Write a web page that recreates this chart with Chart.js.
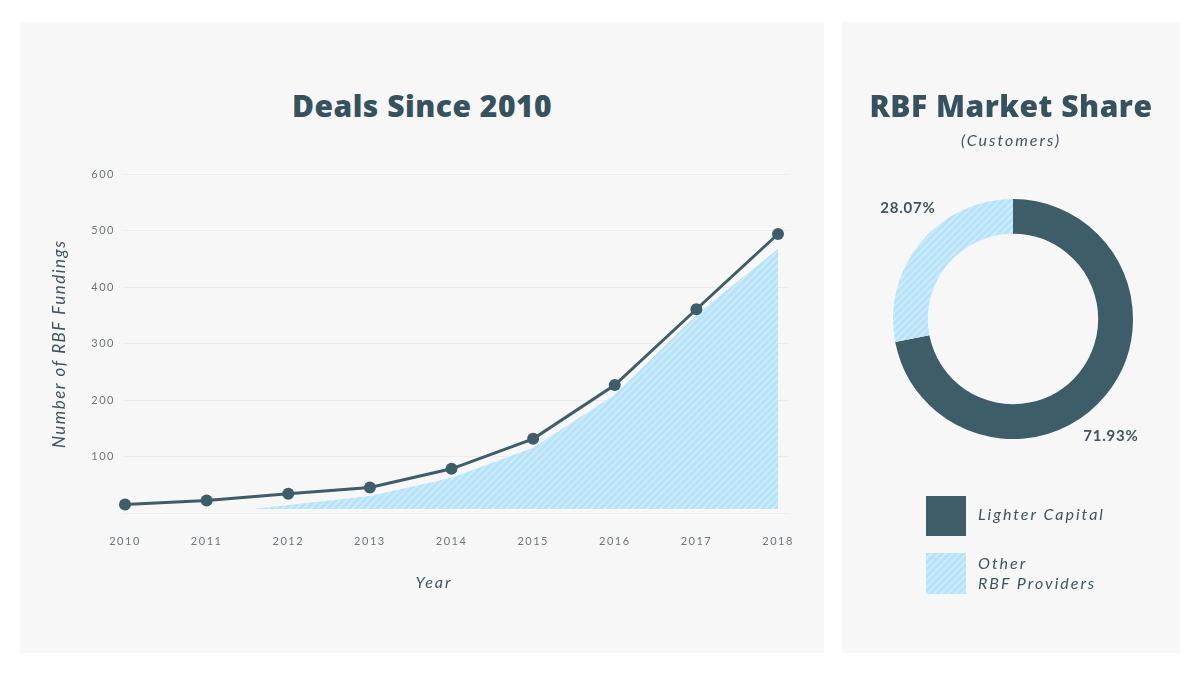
<!DOCTYPE html>
<html><head><meta charset="utf-8">
<script src="https://cdn.jsdelivr.net/npm/chart.js@4.4.1/dist/chart.umd.min.js"></script>
<style>
html,body{margin:0;padding:0;background:#fff;width:1200px;height:675px;overflow:hidden;font-family:Lato,"Open Sans",sans-serif;}
.panel{position:absolute;background:#f7f7f7;}
#left{left:20px;top:22px;width:804px;height:631px;}
#right{left:842px;top:22px;width:338px;height:631px;}
canvas{position:absolute;left:0;top:0;}
.title{position:absolute;left:0;width:100%;text-align:center;font-family:"Open Sans",Lato,sans-serif;font-weight:800;font-size:30px;letter-spacing:0.5px;color:#36525f;line-height:36px;white-space:nowrap;}
.sub{position:absolute;left:0;width:100%;text-align:center;font-style:italic;font-size:16px;color:#3d5561;letter-spacing:2px;line-height:18px;}
.xt{position:absolute;left:372px;width:84px;text-align:center;font-style:italic;font-size:16px;color:#3d5561;letter-spacing:2px;line-height:20px;}
.sw{position:absolute;left:84px;width:40px;height:40px;}
.lt{position:absolute;left:136px;font-style:italic;font-size:16px;color:#3d5561;letter-spacing:2px;line-height:20px;}
</style></head>
<body>
<div class="panel" id="left">
  <div class="title" style="top:66px;">Deals Since 2010</div>
  <canvas id="lineChart" width="804" height="631"></canvas>
  <div class="xt" style="top:550px;">Year</div>
</div>
<div class="panel" id="right">
  <canvas id="pieChart" width="338" height="631"></canvas>
  <div class="title" style="top:66px;">RBF Market Share</div>
  <div class="sub" style="top:109px;">(Customers)</div>
  <div class="sw" style="top:474px;background:#3d5d69;"></div>
  <div class="lt" style="top:482px;">Lighter Capital</div>
  <div class="sw" style="top:531px;height:41px;background:repeating-linear-gradient(135deg,#b8e3f8 0px,#b8e3f8 3.5px,#cdedfc 3.5px,#cdedfc 5px);"></div>
  <div class="lt" style="top:531px;">Other<br>RBF Providers</div>
</div>
<script>
// ---- data ----
const years = [2010, 2011, 2012, 2013, 2014, 2015, 2016, 2017, 2018];
const lighterDeals = [16, 23, 35, 46, 79, 132, 227, 361, 494];
const otherYears = [2011.56, 2013, 2014, 2015, 2016, 2017, 2018];
const otherDeals = [8, 31, 63, 116, 210, 351, 468];
const yTickValues = [100, 200, 300, 400, 500, 600];
const shareLabels = ['Lighter Capital', 'Other RBF Providers'];
const shareValues = [71.93, 28.07];

const DARK = '#3d5d69';
const TEXT = '#3d5561';

function makeHatch(ctx){
  const c = document.createElement('canvas');
  c.width = 7; c.height = 7;
  const g = c.getContext('2d');
  g.fillStyle = '#b8e3f8'; g.fillRect(0,0,7,7);
  g.strokeStyle = '#cdedfc'; g.lineWidth = 1.6;
  g.beginPath();
  g.moveTo(-1,8); g.lineTo(8,-1);
  g.moveTo(-5,5); g.lineTo(5,-5);
  g.moveTo(2,12); g.lineTo(12,2);
  g.stroke();
  return ctx.createPattern(c,'repeat');
}

const spacingPlugin = {
  id:'spacing',
  beforeUpdate(chart){ chart.ctx.letterSpacing = '1.5px'; },
  beforeDraw(chart){ chart.ctx.letterSpacing = '1.5px'; }
};

Chart.defaults.font.family = 'Lato, "Open Sans", sans-serif';
Chart.defaults.animation = false;

const lctx = document.getElementById('lineChart').getContext('2d');
new Chart(lctx, {
  type:'line',
  data:{
    datasets:[
      {
        label:'Lighter Capital',
        data: years.map((y,i)=>({x:y, y:lighterDeals[i]})),
        borderColor: DARK, backgroundColor: DARK,
        borderWidth: 3, pointRadius: 6, pointHoverRadius: 6,
        pointBackgroundColor: DARK, pointBorderWidth: 0,
        fill:false, tension:0, order:0, clip:false
      },
      {
        label:'Other RBF Providers',
        data: otherYears.map((y,i)=>({x:y, y:otherDeals[i]})),
        borderWidth:0, pointRadius:0,
        backgroundColor: makeHatch(lctx),
        fill:{value:8}, tension:0, order:1
      }
    ]
  },
  options:{
    responsive:false,
    layout:{padding:{left:18,right:37,top:152,bottom:39.5}},
    plugins:{legend:{display:false}, tooltip:{enabled:false}},
    scales:{
      x:{
        type:'linear', min:2010, max:2018.11,
        afterBuildTicks(s){ s.ticks = years.map(v=>({value:v})); },
        afterFit(s){ s.height = 100; },
        grid:{display:false, drawTicks:false},
        border:{display:false},
        ticks:{padding:21, color:'#6f7477', font:{size:11}, callback:v=>String(v), maxRotation:0, autoSkip:false}
      },
      y:{
        min:0, max:600,
        afterBuildTicks(s){ s.ticks = [0].concat(yTickValues).map(v=>({value:v})); },
        afterFit(s){ s.width = 87; },
        grid:{color:'#ebebeb', drawTicks:false, lineWidth:1},
        border:{display:false},
        ticks:{padding:10, color:'#6f7477', font:{size:11}, callback:v=> v===0 ? '' : String(v)},
        title:{display:true, text:'Number of RBF Fundings', color:TEXT, font:{size:17, style:'italic'}, padding:{top:11,bottom:0}}
      }
    }
  },
  plugins:[spacingPlugin]
});

const pctx = document.getElementById('pieChart').getContext('2d');
const labelAngles = [50, -133.6];
const pctPlugin = {
  id:'pct',
  afterDraw(chart){
    const meta = chart.getDatasetMeta(0);
    const ctx = chart.ctx;
    ctx.save();
    ctx.letterSpacing = '0.8px';
    ctx.font = 'bold 15px Lato, "Open Sans", sans-serif';
    ctx.fillStyle = TEXT;
    ctx.textAlign = 'center'; ctx.textBaseline = 'middle';
    meta.data.forEach((arc,i)=>{
      const a = labelAngles[i]*Math.PI/180;
      const r = arc.outerRadius*1.27;
      ctx.fillText(shareValues[i].toFixed(2)+'%', arc.x + Math.cos(a)*r, arc.y + Math.sin(a)*r);
    });
    ctx.restore();
  }
};
new Chart(pctx, {
  type:'doughnut',
  data:{
    labels: shareLabels,
    datasets:[{
      data: shareValues,
      backgroundColor:[DARK, makeHatch(pctx)],
      borderWidth:0
    }]
  },
  options:{
    responsive:false,
    cutout:'71%',
    layout:{padding:{left:51,right:47,top:177,bottom:214}},
    plugins:{legend:{display:false}, tooltip:{enabled:false}}
  },
  plugins:[pctPlugin]
});
</script>
</body></html>
